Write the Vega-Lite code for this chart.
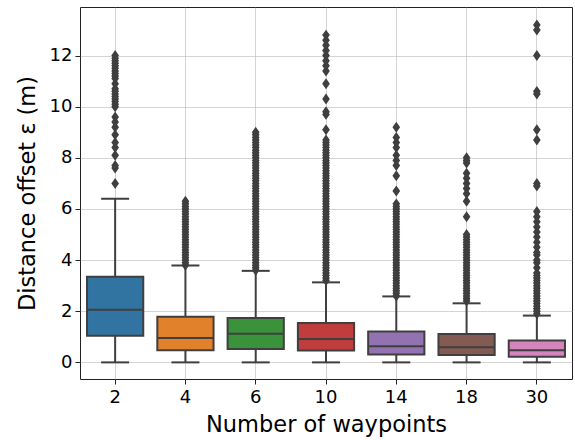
{
  "$schema": "https://vega.github.io/schema/vega-lite/v6.json",
  "autosize": {"type": "none"},
  "padding": {"left": 80, "top": 7, "right": 3, "bottom": 61},
  "width": 492,
  "height": 372,
  "background": "white",
  "config": {
    "font": "DejaVu Sans",
    "view": {"stroke": "#222", "strokeWidth": 1},
    "axis": {
      "domain": false,
      "grid": true,
      "gridColor": "#b0b0b0",
      "gridOpacity": 0.55,
      "gridWidth": 1,
      "zindex": 1,
      "tickColor": "#222",
      "tickSize": 5,
      "labelFontSize": 18,
      "labelColor": "#000",
      "titleFontSize": 22.5,
      "titleFontWeight": "normal",
      "titleColor": "#000"
    }
  },
  "datasets": {
    "stats": [
      {"n": "2", "lo": 0, "q1": 1.04, "med": 2.06, "q3": 3.35, "hi": 6.40},
      {"n": "4", "lo": 0, "q1": 0.47, "med": 0.95, "q3": 1.78, "hi": 3.79},
      {"n": "6", "lo": 0, "q1": 0.52, "med": 1.12, "q3": 1.74, "hi": 3.58},
      {"n": "10", "lo": 0, "q1": 0.46, "med": 0.91, "q3": 1.54, "hi": 3.13},
      {"n": "14", "lo": 0, "q1": 0.31, "med": 0.63, "q3": 1.21, "hi": 2.58},
      {"n": "18", "lo": 0, "q1": 0.29, "med": 0.59, "q3": 1.11, "hi": 2.31},
      {"n": "30", "lo": 0, "q1": 0.22, "med": 0.47, "q3": 0.86, "hi": 1.83}
    ],
    "outliers": [
      {"n": "2", "v": [7.0, 7.6, 7.7, 8.1, 8.4, 8.6, 8.9, 9.2, 9.4, 9.6, 10.0, 10.1, 10.2, 10.3, 10.4, 10.5, 10.6, 10.7, 10.9, 11.1, 11.2, 11.3, 11.4, 11.5, 11.6, 11.7, 11.8, 11.9, 12.0]},
      {"n": "4", "v": [3.8, 3.9, 4.0, 4.1, 4.2, 4.3, 4.4, 4.5, 4.6, 4.7, 4.8, 4.9, 5.0, 5.1, 5.2, 5.3, 5.4, 5.5, 5.6, 5.7, 5.8, 5.9, 6.0, 6.1, 6.2, 6.3]},
      {"n": "6", "v": [3.6, 3.7, 3.8, 3.9, 4.0, 4.1, 4.2, 4.3, 4.4, 4.5, 4.6, 4.7, 4.8, 4.9, 5.0, 5.1, 5.2, 5.3, 5.4, 5.5, 5.6, 5.7, 5.8, 5.9, 6.0, 6.1, 6.2, 6.3, 6.4, 6.5, 6.6, 6.7, 6.8, 6.9, 7.0, 7.1, 7.2, 7.3, 7.4, 7.5, 7.6, 7.7, 7.8, 7.9, 8.0, 8.1, 8.2, 8.3, 8.4, 8.5, 8.6, 8.7, 8.8, 8.9, 9.0]},
      {"n": "10", "v": [3.2, 3.3, 3.4, 3.5, 3.6, 3.7, 3.8, 3.9, 4.0, 4.1, 4.2, 4.3, 4.4, 4.5, 4.6, 4.7, 4.8, 4.9, 5.0, 5.1, 5.2, 5.3, 5.4, 5.5, 5.6, 5.7, 5.8, 5.9, 6.0, 6.1, 6.2, 6.3, 6.4, 6.5, 6.6, 6.7, 6.8, 6.9, 7.0, 7.1, 7.2, 7.3, 7.4, 7.5, 7.6, 7.7, 7.8, 7.9, 8.0, 8.1, 8.2, 8.3, 8.4, 8.5, 8.6, 8.7, 9.1, 9.7, 9.8, 10.3, 10.9, 11.4, 11.6, 11.8, 12.0, 12.2, 12.4, 12.6, 12.8]},
      {"n": "14", "v": [2.6, 2.7, 2.8, 2.9, 3.0, 3.1, 3.2, 3.3, 3.4, 3.5, 3.6, 3.7, 3.8, 3.9, 4.0, 4.1, 4.2, 4.3, 4.4, 4.5, 4.6, 4.7, 4.8, 4.9, 5.0, 5.1, 5.2, 5.3, 5.4, 5.5, 5.6, 5.7, 5.8, 5.9, 6.0, 6.1, 6.2, 6.7, 7.3, 7.7, 7.9, 8.1, 8.4, 8.6, 8.8, 9.2]},
      {"n": "18", "v": [2.4, 2.5, 2.6, 2.7, 2.8, 2.9, 3.0, 3.1, 3.2, 3.3, 3.4, 3.5, 3.6, 3.7, 3.8, 3.9, 4.0, 4.1, 4.2, 4.3, 4.4, 4.5, 4.6, 4.7, 4.8, 4.9, 5.0, 5.7, 6.3, 6.6, 6.8, 7.0, 7.2, 7.4, 7.8, 7.9, 8.0]},
      {"n": "30", "v": [1.9, 2.0, 2.1, 2.2, 2.3, 2.4, 2.5, 2.6, 2.7, 2.8, 2.9, 3.0, 3.1, 3.2, 3.3, 3.4, 3.5, 3.7, 3.9, 4.0, 4.2, 4.3, 4.5, 4.7, 4.9, 5.1, 5.3, 5.5, 5.7, 5.9, 6.9, 7.0, 8.7, 9.1, 10.5, 10.6, 12.0, 13.0, 13.2]}
    ]
  },
  "encoding": {
    "x": {
      "field": "n",
      "type": "nominal",
      "sort": ["2", "4", "6", "10", "14", "18", "30"],
      "scale": {"type": "band", "paddingInner": 0, "paddingOuter": 0, "domain": ["2", "4", "6", "10", "14", "18", "30"]},
      "axis": {"title": "Number of waypoints", "labelAngle": 0, "labelPadding": 4, "titlePadding": 7}
    }
  },
  "layer": [
    {
      "data": {"name": "stats"},
      "mark": {"type": "rule", "color": "#3f3f3f", "strokeWidth": 2},
      "encoding": {
        "y": {"field": "q3", "type": "quantitative", "scale": {"domain": [-0.65, 13.9], "nice": false, "zero": false}, "axis": {"title": "Distance offset ε (m)", "values": [0, 2, 4, 6, 8, 10, 12], "labelPadding": 3, "titlePadding": 10}},
        "y2": {"field": "hi"}
      }
    },
    {
      "data": {"name": "stats"},
      "mark": {"type": "rule", "color": "#3f3f3f", "strokeWidth": 2},
      "encoding": {
        "y": {"field": "lo", "type": "quantitative"},
        "y2": {"field": "q1"}
      }
    },
    {
      "data": {"name": "stats"},
      "mark": {"type": "bar", "width": {"band": 0.8}, "stroke": "#3f3f3f", "strokeWidth": 2, "opacity": 1},
      "encoding": {
        "y": {"field": "q1", "type": "quantitative"},
        "y2": {"field": "q3"},
        "color": {
          "field": "n",
          "type": "nominal",
          "scale": {"domain": ["2", "4", "6", "10", "14", "18", "30"], "range": ["#3274a1", "#e1812c", "#3a923a", "#c03d3e", "#9372b2", "#845b53", "#d684bd"]},
          "legend": null
        }
      }
    },
    {
      "data": {"name": "stats"},
      "mark": {"type": "tick", "color": "#3f3f3f", "size": 56, "thickness": 2, "opacity": 1},
      "encoding": {"y": {"field": "med", "type": "quantitative"}}
    },
    {
      "data": {"name": "stats"},
      "mark": {"type": "tick", "color": "#3f3f3f", "size": 28, "thickness": 2, "opacity": 1},
      "encoding": {"y": {"field": "hi", "type": "quantitative"}}
    },
    {
      "data": {"name": "stats"},
      "mark": {"type": "tick", "color": "#3f3f3f", "size": 28, "thickness": 2, "opacity": 1},
      "encoding": {"y": {"field": "lo", "type": "quantitative"}}
    },
    {
      "data": {"name": "outliers"},
      "transform": [{"flatten": ["v"]}],
      "mark": {"type": "point", "shape": "M0,-1L0.7,0L0,1L-0.7,0Z", "size": 120, "filled": true, "color": "#3f3f3f", "opacity": 1},
      "encoding": {"y": {"field": "v", "type": "quantitative"}}
    }
  ]
}
